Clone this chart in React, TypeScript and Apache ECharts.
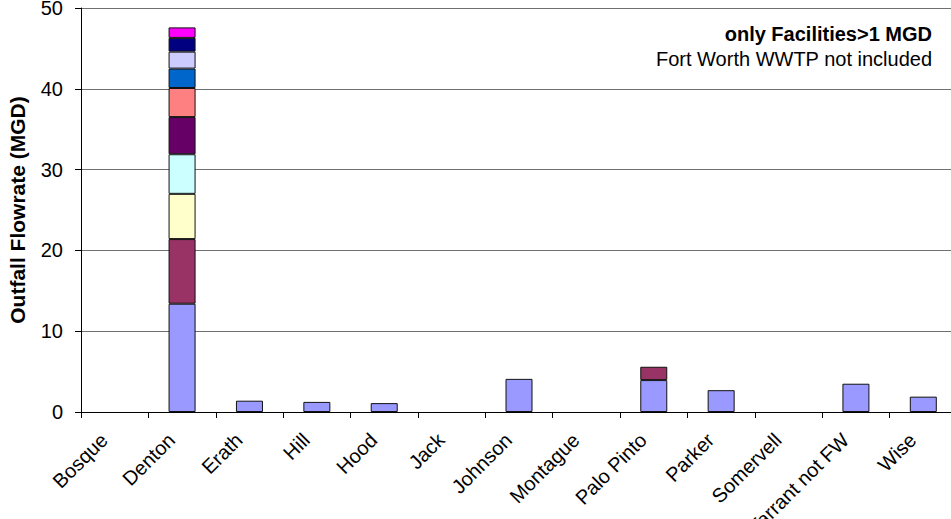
import React, { useEffect, useRef } from "react";
import * as echarts from "echarts";

const categories = [
  "Bosque", "Denton", "Erath", "Hill", "Hood", "Jack", "Johnson",
  "Montague", "Palo Pinto", "Parker", "Somervell", "Tarrant not FW", "Wise",
];

// Each facility layer (stacked), values in MGD; null = no facility
const facility1 = [null, 13.4, 1.4, 1.25, 1.1, null, 4.1, null, 3.95, 2.7, null, 3.5, 1.9];
const facility2 = [null, 8.0, null, null, null, null, null, null, 1.65, null, null, null, null];
const facility3 = [null, 5.6, null, null, null, null, null, null, null, null, null, null, null];
const facility4 = [null, 4.9, null, null, null, null, null, null, null, null, null, null, null];
const facility5 = [null, 4.6, null, null, null, null, null, null, null, null, null, null, null];
const facility6 = [null, 3.6, null, null, null, null, null, null, null, null, null, null, null];
const facility7 = [null, 2.4, null, null, null, null, null, null, null, null, null, null, null];
const facility8 = [null, 2.1, null, null, null, null, null, null, null, null, null, null, null];
const facility9 = [null, 1.7, null, null, null, null, null, null, null, null, null, null, null];
const facility10 = [null, 1.3, null, null, null, null, null, null, null, null, null, null, null];

const layers = [facility1, facility2, facility3, facility4, facility5, facility6, facility7, facility8, facility9, facility10];
const layerColors = ["#9999FF", "#993366", "#FFFFCC", "#CCFFFF", "#660066", "#FF8080", "#0066CC", "#CCCCFF", "#000080", "#FF00FF"];

const yTicks = { min: 0, max: 50, interval: 10 };

export default function App() {
  const ref = useRef<HTMLDivElement>(null);
  useEffect(() => {
    if (!ref.current) return;
    document.body.style.margin = "0";
    const chart = echarts.init(ref.current, null, { renderer: "svg" });
    const font = "Liberation Sans, Arial, sans-serif";
    chart.setOption({
      animation: false,
      backgroundColor: "#ffffff",
      grid: { left: 81, right: -6, top: 8, bottom: 107, containLabel: false, outerBoundsMode: "none" },
      xAxis: {
        type: "category",
        data: categories,
        boundaryGap: true,
        axisLine: { show: true, lineStyle: { color: "#000", width: 1 } },
        axisTick: { show: true, alignWithLabel: false, length: 6, lineStyle: { color: "#000" } },
        axisLabel: {
          interval: 0,
          rotate: 45,
          margin: 14,
          padding: [0, 15, 0, 0],
          color: "#000",
          fontFamily: font,
          fontSize: 20,
        },
      },
      yAxis: {
        type: "value",
        min: yTicks.min,
        max: yTicks.max,
        interval: yTicks.interval,
        name: "Outfall Flowrate (MGD)",
        nameLocation: "middle",
        nameRotate: 90,
        nameGap: 53,
        nameTextStyle: { fontFamily: font, fontSize: 21, fontWeight: "bold", color: "#000" },
        axisLine: { show: true, lineStyle: { color: "#000", width: 1 } },
        axisTick: { show: true, inside: false, length: 6, lineStyle: { color: "#000" } },
        axisLabel: { margin: 18, color: "#000", fontFamily: font, fontSize: 20 },
        splitLine: { show: true, lineStyle: { color: "#707070", width: 1 } },
      },
      series: layers.map((d, i) => ({
        type: "bar",
        stack: "total",
        data: d,
        barWidth: 27,
        itemStyle: { color: layerColors[i], borderColor: "#111", borderWidth: 1 },
      })),
      graphic: [
        {
          type: "text",
          right: 19,
          top: 24,
          style: {
            text: "only Facilities>1 MGD",
            font: `bold 20px ${font}`,
            fill: "#000",
            textAlign: "right",
          },
        },
        {
          type: "text",
          right: 19,
          top: 49,
          style: {
            text: "Fort Worth WWTP not included",
            font: `20px ${font}`,
            fill: "#000",
            textAlign: "right",
          },
        },
      ],
    });
    return () => chart.dispose();
  }, []);
  return <div ref={ref} style={{ width: 951, height: 519 }} />;
}
